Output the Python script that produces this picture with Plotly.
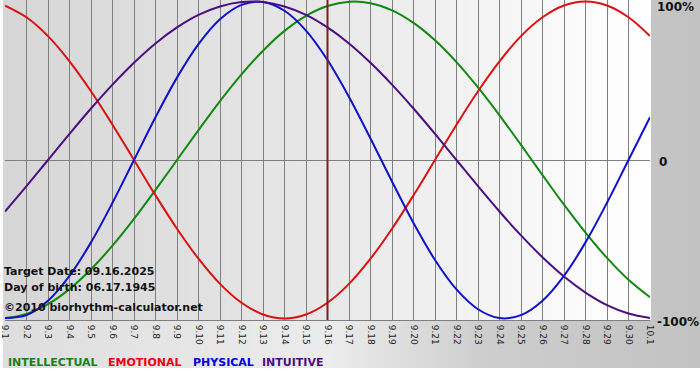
import plotly.graph_objects as go

# ---------------- data ----------------
days = ["9.1", "9.2", "9.3", "9.4", "9.5", "9.6", "9.7", "9.8", "9.9", "9.10",
        "9.11", "9.12", "9.13", "9.14", "9.15", "9.16", "9.17", "9.18", "9.19", "9.20",
        "9.21", "9.22", "9.23", "9.24", "9.25", "9.26", "9.27", "9.28", "9.29", "9.30", "10.1"]

intellectual = [-0.999, -0.972, -0.910, -0.815, -0.690, -0.541, -0.372, -0.189, 0.0, 0.189,
                0.372, 0.541, 0.690, 0.815, 0.910, 0.972, 0.999, 0.990, 0.945, 0.866,
                0.756, 0.618, 0.458, 0.282, 0.095, -0.095, -0.282, -0.458, -0.618, -0.756, -0.866]

emotional = [0.975, 0.901, 0.782, 0.623, 0.434, 0.223, 0.0, -0.223, -0.434, -0.623,
             -0.782, -0.901, -0.975, -1.0, -0.975, -0.901, -0.782, -0.623, -0.434, -0.223,
             0.0, 0.223, 0.434, 0.623, 0.782, 0.901, 0.975, 1.0, 0.975, 0.901, 0.782]

physical = [-0.998, -0.979, -0.888, -0.731, -0.520, -0.270, 0.0, 0.270, 0.520, 0.731,
            0.888, 0.979, 0.998, 0.942, 0.817, 0.631, 0.398, 0.136, -0.136, -0.398,
            -0.631, -0.817, -0.942, -0.998, -0.979, -0.888, -0.731, -0.520, -0.270, 0.0, 0.270]

intuitive = [-0.325, -0.165, 0.0, 0.165, 0.325, 0.476, 0.614, 0.736, 0.837, 0.916,
             0.969, 0.997, 0.997, 0.969, 0.916, 0.837, 0.736, 0.614, 0.476, 0.325,
             0.165, 0.0, -0.165, -0.325, -0.476, -0.614, -0.736, -0.837, -0.916, -0.969, -0.997]

target_day = "9.16"
target_date = "09.16.2025"
birth_date = "06.17.1945"
y_labels = ["100%", "0", "-100%"]

series_names = ["INTELLECTUAL", "EMOTIONAL", "PHYSICAL", "INTUITIVE"]
series_values = [intellectual, emotional, physical, intuitive]

# ---------------- styling ----------------
line_colors = ["#118811", "#dd1111", "#1111cc", "#4b0f82"]
legend_colors = ["#1a7f1a", "#ee0011", "#0000dd", "#4b0f82"]

W, H = 700, 380
L, R, T, B = 2, 50, 0, 60
PW, PH = W - L - R, H - T - B


def px_x(px):
    return (px - L) / PW


def px_y(py):
    return (PH + T - py) / PH


def lerp_color(stops, px):
    for (p0, c0), (p1, c1) in zip(stops[:-1], stops[1:]):
        if p0 <= px <= p1:
            f = (px - p0) / (p1 - p0) if p1 > p0 else 0
            v = round(c0 + (c1 - c0) * f)
            return "rgb(%d,%d,%d)" % (v, v, v)
    v = stops[-1][1]
    return "rgb(%d,%d,%d)" % (v, v, v)


shapes = []
# outer panel gradient
panel_stops = [(0, 222), (330, 236), (480, 206), (700, 194)]
step = 4
for x0 in range(0, 700, step):
    shapes.append(dict(type="rect", xref="paper", yref="paper",
                       x0=px_x(x0), x1=px_x(x0 + step + 1), y0=px_y(368), y1=px_y(0),
                       fillcolor=lerp_color(panel_stops, x0 + step / 2),
                       line=dict(width=0), layer="below"))
# plot area gradient
plot_stops = [(0, 214), (325, 232), (600, 252), (651, 255)]
for x0 in range(0, 651, step):
    x1 = min(x0 + step + 1, 651)
    shapes.append(dict(type="rect", xref="paper", yref="paper",
                       x0=px_x(x0), x1=px_x(x1), y0=px_y(320), y1=px_y(0),
                       fillcolor=lerp_color(plot_stops, x0 + step / 2),
                       line=dict(width=0), layer="below"))

fig = go.Figure()
for name, vals, col in zip(series_names, series_values, line_colors):
    fig.add_trace(go.Scatter(x=days, y=vals, mode="lines", name=name,
                             line=dict(color=col, width=2, shape="spline"),
                             showlegend=False, hoverinfo="skip"))

# target-date line
fig.add_trace(go.Scatter(x=[target_day, target_day], y=[-1.01, 1.01], mode="lines",
                         line=dict(color="#7a1e1e", width=2), showlegend=False,
                         hoverinfo="skip"))

annotations = []
font_b = "DejaVu Sans"
info = [("Target Date: " + target_date, 271),
        ("Day of birth: " + birth_date, 287),
        ("\u00a92010 biorhythm-calculator.net", 307)]
for txt, py in info:
    annotations.append(dict(text="<b>" + txt + "</b>", xref="paper", yref="paper",
                            x=px_x(-1), y=px_y(py), xanchor="left", yanchor="middle",
                            showarrow=False,
                            font=dict(family=font_b, size=11, color="#111111")))

# right-side scale labels
label_pos = {"100%": (655, 7), "0": (657, 162), "-100%": (655, 322)}
for lab in y_labels:
    x_, y_ = label_pos[lab]
    annotations.append(dict(text="<b>" + lab + "</b>", xref="paper", yref="paper",
                            x=px_x(x_), y=px_y(y_), xanchor="left", yanchor="middle",
                            showarrow=False,
                            font=dict(family=font_b, size=12, color="#111111")))

# bottom legend
leg_x = [3, 103, 189, 258]
for name, col, xx in zip(series_names, legend_colors, leg_x):
    annotations.append(dict(text="<b>" + name + "</b>", xref="paper", yref="paper",
                            x=px_x(xx), y=px_y(362), xanchor="left", yanchor="middle",
                            showarrow=False,
                            font=dict(family=font_b, size=11, color=col)))

fig.update_layout(
    width=W, height=H,
    margin=dict(l=L, r=R, t=T, b=B, pad=0),
    paper_bgcolor="white",
    plot_bgcolor="rgba(0,0,0,0)",
    shapes=shapes,
    annotations=annotations,
    xaxis=dict(type="category", categoryorder="array", categoryarray=days,
               range=[0, len(days) - 1], showgrid=True, gridcolor="#7f7f7f",
               gridwidth=1, tickangle=90, ticks="outside", ticklen=2,
               tickcolor="rgba(0,0,0,0)", showline=True,
               linecolor="#7f7f7f", linewidth=1, zeroline=False,
               tickfont=dict(family="DejaVu Sans", size=9, color="#222222"),
               fixedrange=True),
    yaxis=dict(range=[-1.01, 1.01], showgrid=False, zeroline=True,
               zerolinecolor="#7f7f7f", zerolinewidth=1,
               showticklabels=False, ticks="", fixedrange=True),
)

fig.write_html("out.html")
